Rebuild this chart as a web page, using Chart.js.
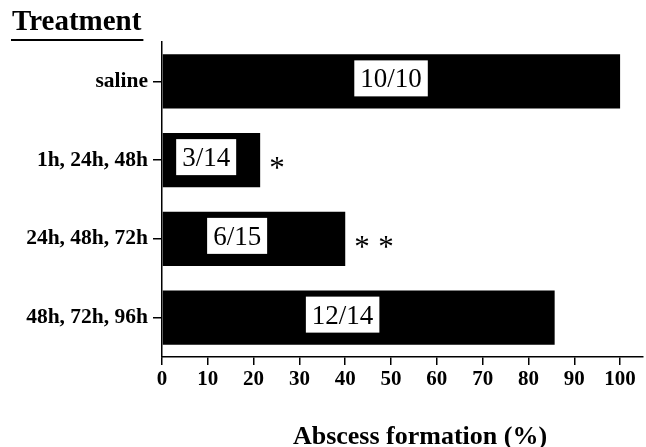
<!DOCTYPE html>
<html>
<head>
<meta charset="utf-8">
<script src="https://cdn.jsdelivr.net/npm/chart.js@4.4.1/dist/chart.umd.min.js"></script>
<style>
  html, body { margin: 0; padding: 0; background: #fff; }
  #wrap { width: 646px; height: 447px; position: relative; }
</style>
</head>
<body>
<div id="wrap"><canvas id="c"></canvas></div>
<script>
// Treatment groups and abscess formation rates
const treatments = ['saline', '1h, 24h, 48h', '24h, 48h, 72h', '48h, 72h, 96h'];
const abscessCount = [10, 3, 6, 12];
const animalCount = [10, 14, 15, 14];
const abscessPercent = [100, 3 / 14 * 100, 6 / 15 * 100, 12 / 14 * 100];
const significance = ['', '*', '**', ''];
const xTicks = [0, 10, 20, 30, 40, 50, 60, 70, 80, 90, 100];

// where each ratio box sits along its bar (fraction of bar length)
const boxAnchor = [0.5, 0.45, 0.41, 0.46];

const SERIF = '"Liberation Serif", "Times New Roman", serif';

const annotate = {
  id: 'annotate',
  afterDatasetsDraw(chart) {
    const ctx = chart.ctx;
    const meta = chart.getDatasetMeta(0);
    const xs = chart.scales.x;
    ctx.save();
    meta.data.forEach((bar, i) => {
      const y = bar.y;
      // ratio label in a white box
      const text = abscessCount[i] + '/' + animalCount[i];
      ctx.font = '27px ' + SERIF;
      const w = ctx.measureText(text).width;
      const cx = xs.getPixelForValue(abscessPercent[i] * boxAnchor[i]);
      const bw = w + 12, bh = 36;
      ctx.fillStyle = '#fff';
      ctx.fillRect(cx - bw / 2, y - bh / 2 - 3, bw, bh);
      ctx.fillStyle = '#000';
      ctx.textAlign = 'center';
      ctx.textBaseline = 'alphabetic';
      ctx.fillText(text, cx, y + 6);
      // significance marks, each star centred a little below the bar middle
      if (significance[i]) {
        ctx.font = '31px ' + SERIF;
        ctx.textAlign = 'left';
        const m = ctx.measureText('*');
        const base = y + 3 + (m.actualBoundingBoxAscent - m.actualBoundingBoxDescent) / 2;
        let x = bar.x + 8 - m.actualBoundingBoxLeft;
        for (const ch of significance[i]) {
          ctx.fillText(ch, x, base);
          x += 24;
        }
      }
    });
    ctx.restore();
  },
  afterDraw(chart) {
    const ctx = chart.ctx;
    ctx.save();
    ctx.fillStyle = '#000';
    ctx.textBaseline = 'alphabetic';
    // heading over the category axis
    ctx.font = 'bold 29px ' + SERIF;
    ctx.textAlign = 'left';
    ctx.fillText('Treatment', 12, 30);
    const tw = ctx.measureText('Treatment').width;
    ctx.fillRect(11, 39, tw + 3, 2);
    // value axis title
    ctx.font = 'bold 26px ' + SERIF;
    ctx.textAlign = 'center';
    ctx.fillText('Abscess formation (%)', 420, 444);
    ctx.restore();
  }
};

new Chart(document.getElementById('c'), {
  type: 'bar',
  data: {
    labels: treatments,
    datasets: [{
      data: abscessPercent,
      backgroundColor: '#000',
      borderWidth: 0,
      barPercentage: 0.69,
      categoryPercentage: 1
    }]
  },
  options: {
    indexAxis: 'y',
    responsive: true,
    maintainAspectRatio: false,
    animation: false,
    layout: { padding: { top: 42, right: 3, left: 0, bottom: 0 } },
    plugins: { legend: { display: false }, tooltip: { enabled: false } },
    scales: {
      x: {
        min: 0,
        max: 105,
        afterBuildTicks(s) { s.ticks = xTicks.map(v => ({ value: v })); },
        afterFit(s) { s.height = 90; },
        border: { display: true, color: '#000', width: 1.5 },
        grid: { drawOnChartArea: false, drawTicks: true, tickLength: 8, color: '#000', lineWidth: 1.5 },
        ticks: {
          color: '#000',
          padding: 2,
          maxRotation: 0,
          font: { family: SERIF, size: 21, weight: 'bold' }
        }
      },
      y: {
        afterFit(s) { s.width = 162; },
        border: { display: true, color: '#000', width: 1.5 },
        grid: { offset: false, drawOnChartArea: false, drawTicks: true, tickLength: 9, color: '#000', lineWidth: 1.5 },
        ticks: {
          color: '#000',
          padding: 5,
          font: { family: SERIF, size: 21.5, weight: 'bold' }
        }
      }
    }
  },
  plugins: [annotate]
});
</script>
</body>
</html>
